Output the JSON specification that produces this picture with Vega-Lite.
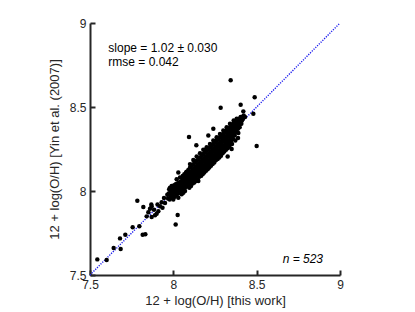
{
  "$schema": "https://vega.github.io/schema/vega-lite/v6.json",
  "autosize": "none",
  "width": 250,
  "height": 252,
  "padding": {"left": 90, "top": 23, "right": 75, "bottom": 37},
  "background": "white",
  "config": {
    "view": {"stroke": null},
    "font": "Liberation Sans",
    "axis": {
      "grid": false,
      "domainColor": "#262626",
      "domainWidth": 2,
      "ticks": true,
      "tickColor": "#262626",
      "tickWidth": 2,
      "tickSize": -5,
      "labelColor": "#262626",
      "labelFontSize": 12,
      "titleFontSize": 13,
      "titleFontWeight": "normal",
      "titleColor": "#262626",
      "format": "~g"
    }
  },
  "layer": [
    {
      "data": {"values": [{"x": 7.5, "y": 7.5}, {"x": 9, "y": 9}]},
      "mark": {"type": "line", "color": "#1a1aee", "strokeWidth": 1.4, "strokeDash": [1.2, 1.3]},
      "encoding": {
        "x": {"field": "x", "type": "quantitative", "scale": {"domain": [7.5, 9], "nice": false}, "axis": {"values": [7.5, 8, 8.5, 9], "title": "12 + log(O/H) [this work]", "labelPadding": 9, "titlePadding": 4, "labelFlush": false}},
        "y": {"field": "y", "type": "quantitative", "scale": {"domain": [7.5, 9], "nice": false}, "axis": {"values": [7.5, 8, 8.5, 9], "title": "12 + log(O/H) [Yin et al. (2007)]", "labelPadding": 9, "titlePadding": 8, "labelFlush": false}}
      }
    },
    {
      "data": {"values": [
        {"x":8.344,"y":8.659},{"x":8.488,"y":8.558},{"x":8.404,"y":8.514},{"x":8.284,"y":8.496},{"x":8.42,"y":8.474},{"x":8.48,"y":8.46},{"x":8.5,"y":8.268},{"x":8.094,"y":8.321},{"x":8.138,"y":8.272},{"x":7.784,"y":7.942},{"x":8.026,"y":7.857},{"x":8.014,"y":7.8},{"x":7.544,"y":7.593},{"x":7.6,"y":7.589},{"x":7.642,"y":7.661},{"x":7.684,"y":7.655},{"x":7.68,"y":7.718},{"x":7.712,"y":7.74},{"x":7.756,"y":7.784},{"x":7.796,"y":7.79},{"x":7.816,"y":7.74},{"x":7.832,"y":7.742},{"x":7.82,"y":7.905},{"x":8.326,"y":8.206},{"x":8.388,"y":8.316},{"x":8.24,"y":8.371},{"x":8.25,"y":8.183},{"x":8.184,"y":8.123},{"x":7.868,"y":7.919},{"x":8.03,"y":8.11},{"x":8.21,"y":8.33},{"x":8.35,"y":8.25},{"x":8.15,"y":8.06},
        {"x":7.85,"y":7.873},{"x":7.86,"y":7.895},{"x":7.87,"y":7.909},{"x":7.884,"y":7.889},{"x":7.9,"y":7.865},{"x":7.92,"y":7.909},{"x":7.93,"y":7.933},{"x":7.944,"y":7.958},{"x":7.964,"y":7.978},{"x":7.98,"y":8.008},{"x":7.84,"y":7.849},{"x":7.87,"y":7.845},{"x":7.89,"y":7.855},{"x":7.91,"y":7.879},{"x":7.95,"y":7.929},{"x":7.905,"y":7.92},{"x":7.935,"y":7.9},
        {"x":7.968,"y":7.955},{"x":7.972,"y":7.985},{"x":7.975,"y":8.01},
        {"x":7.978,"y":7.95},{"x":7.982,"y":7.975},{"x":7.985,"y":8.0},{"x":7.98,"y":8.02},
        {"x":7.988,"y":7.96},{"x":7.992,"y":7.985},{"x":7.995,"y":8.005},{"x":7.99,"y":8.03},
        {"x":7.998,"y":7.97},{"x":8.003,"y":7.99},{"x":8.0,"y":8.01},{"x":8.005,"y":8.035},{"x":8.0,"y":7.95},
        {"x":8.008,"y":7.965},{"x":8.012,"y":7.99},{"x":8.01,"y":8.015},{"x":8.014,"y":8.04},
        {"x":8.018,"y":7.975},{"x":8.022,"y":8.0},{"x":8.02,"y":8.02},{"x":8.024,"y":8.045},{"x":8.02,"y":8.07},
        {"x":8.028,"y":7.985},{"x":8.032,"y":8.01},{"x":8.03,"y":8.03},{"x":8.034,"y":8.05},{"x":8.03,"y":7.96},
        {"x":8.038,"y":7.99},{"x":8.042,"y":8.015},{"x":8.04,"y":8.035},{"x":8.044,"y":8.055},{"x":8.04,"y":8.08},
        {"x":8.048,"y":8.0},{"x":8.052,"y":8.025},{"x":8.05,"y":8.045},{"x":8.054,"y":8.065},{"x":8.05,"y":7.98},{"x":8.056,"y":8.09},
        {"x":8.058,"y":8.01},{"x":8.062,"y":8.035},{"x":8.06,"y":8.055},{"x":8.064,"y":8.075},{"x":8.06,"y":7.99},{"x":8.066,"y":8.1},
        {"x":8.068,"y":8.02},{"x":8.072,"y":8.045},{"x":8.07,"y":8.065},{"x":8.074,"y":8.085},{"x":8.07,"y":8.0},{"x":8.076,"y":8.11},
        {"x":8.078,"y":8.025},{"x":8.082,"y":8.05},{"x":8.08,"y":8.075},{"x":8.084,"y":8.095},{"x":8.08,"y":8.115},{"x":8.086,"y":8.035},
        {"x":8.088,"y":8.04},{"x":8.092,"y":8.06},{"x":8.09,"y":8.085},{"x":8.094,"y":8.105},{"x":8.09,"y":8.125},{"x":8.096,"y":8.02},
        {"x":8.098,"y":8.05},{"x":8.102,"y":8.07},{"x":8.1,"y":8.095},{"x":8.104,"y":8.115},{"x":8.1,"y":8.14},{"x":8.106,"y":8.03},{"x":8.1,"y":8.16},
        {"x":8.108,"y":8.06},{"x":8.112,"y":8.08},{"x":8.11,"y":8.105},{"x":8.114,"y":8.125},{"x":8.11,"y":8.15},{"x":8.116,"y":8.045},
        {"x":8.118,"y":8.07},{"x":8.122,"y":8.09},{"x":8.12,"y":8.115},{"x":8.124,"y":8.135},{"x":8.12,"y":8.16},{"x":8.126,"y":8.05},{"x":8.12,"y":8.185},
        {"x":8.128,"y":8.08},{"x":8.132,"y":8.1},{"x":8.13,"y":8.125},{"x":8.134,"y":8.145},{"x":8.13,"y":8.17},{"x":8.136,"y":8.06},
        {"x":8.138,"y":8.09},{"x":8.142,"y":8.11},{"x":8.14,"y":8.135},{"x":8.144,"y":8.155},{"x":8.14,"y":8.18},{"x":8.146,"y":8.07},{"x":8.14,"y":8.205},
        {"x":8.148,"y":8.1},{"x":8.152,"y":8.12},{"x":8.15,"y":8.145},{"x":8.154,"y":8.165},{"x":8.15,"y":8.19},{"x":8.156,"y":8.085},
        {"x":8.158,"y":8.11},{"x":8.162,"y":8.13},{"x":8.16,"y":8.155},{"x":8.164,"y":8.175},{"x":8.16,"y":8.2},{"x":8.166,"y":8.09},{"x":8.16,"y":8.225},
        {"x":8.168,"y":8.12},{"x":8.172,"y":8.14},{"x":8.17,"y":8.165},{"x":8.174,"y":8.185},{"x":8.17,"y":8.21},{"x":8.176,"y":8.1},
        {"x":8.178,"y":8.13},{"x":8.182,"y":8.15},{"x":8.18,"y":8.175},{"x":8.184,"y":8.195},{"x":8.18,"y":8.22},{"x":8.186,"y":8.11},{"x":8.18,"y":8.245},
        {"x":8.188,"y":8.14},{"x":8.192,"y":8.16},{"x":8.19,"y":8.185},{"x":8.194,"y":8.205},{"x":8.19,"y":8.23},{"x":8.196,"y":8.12},
        {"x":8.198,"y":8.15},{"x":8.202,"y":8.17},{"x":8.2,"y":8.195},{"x":8.204,"y":8.215},{"x":8.2,"y":8.24},{"x":8.206,"y":8.13},{"x":8.2,"y":8.26},
        {"x":8.208,"y":8.16},{"x":8.212,"y":8.18},{"x":8.21,"y":8.205},{"x":8.214,"y":8.225},{"x":8.21,"y":8.25},{"x":8.216,"y":8.14},
        {"x":8.218,"y":8.17},{"x":8.222,"y":8.19},{"x":8.22,"y":8.215},{"x":8.224,"y":8.235},{"x":8.22,"y":8.26},{"x":8.226,"y":8.15},{"x":8.22,"y":8.28},
        {"x":8.228,"y":8.18},{"x":8.232,"y":8.2},{"x":8.23,"y":8.225},{"x":8.234,"y":8.245},{"x":8.23,"y":8.27},{"x":8.236,"y":8.16},
        {"x":8.238,"y":8.19},{"x":8.242,"y":8.21},{"x":8.24,"y":8.235},{"x":8.244,"y":8.255},{"x":8.24,"y":8.28},{"x":8.246,"y":8.17},{"x":8.24,"y":8.3},
        {"x":8.248,"y":8.2},{"x":8.252,"y":8.22},{"x":8.25,"y":8.245},{"x":8.254,"y":8.265},{"x":8.25,"y":8.29},{"x":8.256,"y":8.185},
        {"x":8.258,"y":8.21},{"x":8.262,"y":8.23},{"x":8.26,"y":8.255},{"x":8.264,"y":8.275},{"x":8.26,"y":8.3},{"x":8.266,"y":8.19},{"x":8.26,"y":8.32},
        {"x":8.268,"y":8.22},{"x":8.272,"y":8.24},{"x":8.27,"y":8.265},{"x":8.274,"y":8.285},{"x":8.27,"y":8.31},{"x":8.276,"y":8.2},
        {"x":8.278,"y":8.23},{"x":8.282,"y":8.25},{"x":8.28,"y":8.275},{"x":8.284,"y":8.295},{"x":8.28,"y":8.32},{"x":8.286,"y":8.21},{"x":8.28,"y":8.34},
        {"x":8.288,"y":8.24},{"x":8.292,"y":8.26},{"x":8.29,"y":8.285},{"x":8.294,"y":8.305},{"x":8.29,"y":8.33},{"x":8.296,"y":8.225},
        {"x":8.298,"y":8.25},{"x":8.302,"y":8.27},{"x":8.3,"y":8.295},{"x":8.304,"y":8.315},{"x":8.3,"y":8.34},{"x":8.306,"y":8.235},{"x":8.3,"y":8.36},
        {"x":8.308,"y":8.26},{"x":8.312,"y":8.28},{"x":8.31,"y":8.305},{"x":8.314,"y":8.325},{"x":8.31,"y":8.35},{"x":8.316,"y":8.245},
        {"x":8.318,"y":8.27},{"x":8.322,"y":8.29},{"x":8.32,"y":8.315},{"x":8.324,"y":8.335},{"x":8.32,"y":8.36},{"x":8.326,"y":8.255},{"x":8.32,"y":8.38},
        {"x":8.328,"y":8.28},{"x":8.332,"y":8.3},{"x":8.33,"y":8.325},{"x":8.334,"y":8.345},{"x":8.33,"y":8.37},{"x":8.336,"y":8.265},
        {"x":8.338,"y":8.29},{"x":8.342,"y":8.31},{"x":8.34,"y":8.335},{"x":8.344,"y":8.355},{"x":8.34,"y":8.38},{"x":8.34,"y":8.4},
        {"x":8.348,"y":8.3},{"x":8.352,"y":8.32},{"x":8.35,"y":8.345},{"x":8.354,"y":8.365},{"x":8.35,"y":8.39},{"x":8.352,"y":8.28},
        {"x":8.358,"y":8.31},{"x":8.362,"y":8.335},{"x":8.36,"y":8.355},{"x":8.364,"y":8.375},{"x":8.36,"y":8.4},{"x":8.362,"y":8.42},
        {"x":8.368,"y":8.33},{"x":8.372,"y":8.35},{"x":8.37,"y":8.37},{"x":8.374,"y":8.39},{"x":8.37,"y":8.41},{"x":8.372,"y":8.3},
        {"x":8.378,"y":8.35},{"x":8.382,"y":8.37},{"x":8.38,"y":8.39},{"x":8.384,"y":8.41},{"x":8.38,"y":8.43},
        {"x":8.388,"y":8.37},{"x":8.392,"y":8.39},{"x":8.39,"y":8.41},{"x":8.394,"y":8.43},{"x":8.39,"y":8.345},
        {"x":8.398,"y":8.38},{"x":8.402,"y":8.4},{"x":8.4,"y":8.42},{"x":8.404,"y":8.44},
        {"x":8.408,"y":8.4},{"x":8.412,"y":8.42},{"x":8.41,"y":8.44},
        {"x":8.418,"y":8.43},{"x":8.422,"y":8.45},{"x":8.43,"y":8.44}
      ]},
      "mark": {"type": "circle", "color": "black", "opacity": 1, "size": 20},
      "encoding": {
        "x": {"field": "x", "type": "quantitative"},
        "y": {"field": "y", "type": "quantitative"}
      }
    },
    {
      "data": {"values": [
        {"x": 7.61, "y": 8.853, "label": "slope = 1.02 ± 0.030"},
        {"x": 7.61, "y": 8.77, "label": "rmse = 0.042"}
      ]},
      "mark": {"type": "text", "align": "left", "baseline": "middle", "fontSize": 12, "color": "black"},
      "encoding": {
        "x": {"field": "x", "type": "quantitative"},
        "y": {"field": "y", "type": "quantitative"},
        "text": {"field": "label"}
      }
    },
    {
      "data": {"values": [{"x": 8.898, "y": 7.595, "label": "n = 523"}]},
      "mark": {"type": "text", "align": "right", "baseline": "middle", "fontSize": 12, "fontStyle": "italic", "color": "black"},
      "encoding": {
        "x": {"field": "x", "type": "quantitative"},
        "y": {"field": "y", "type": "quantitative"},
        "text": {"field": "label"}
      }
    }
  ]
}
